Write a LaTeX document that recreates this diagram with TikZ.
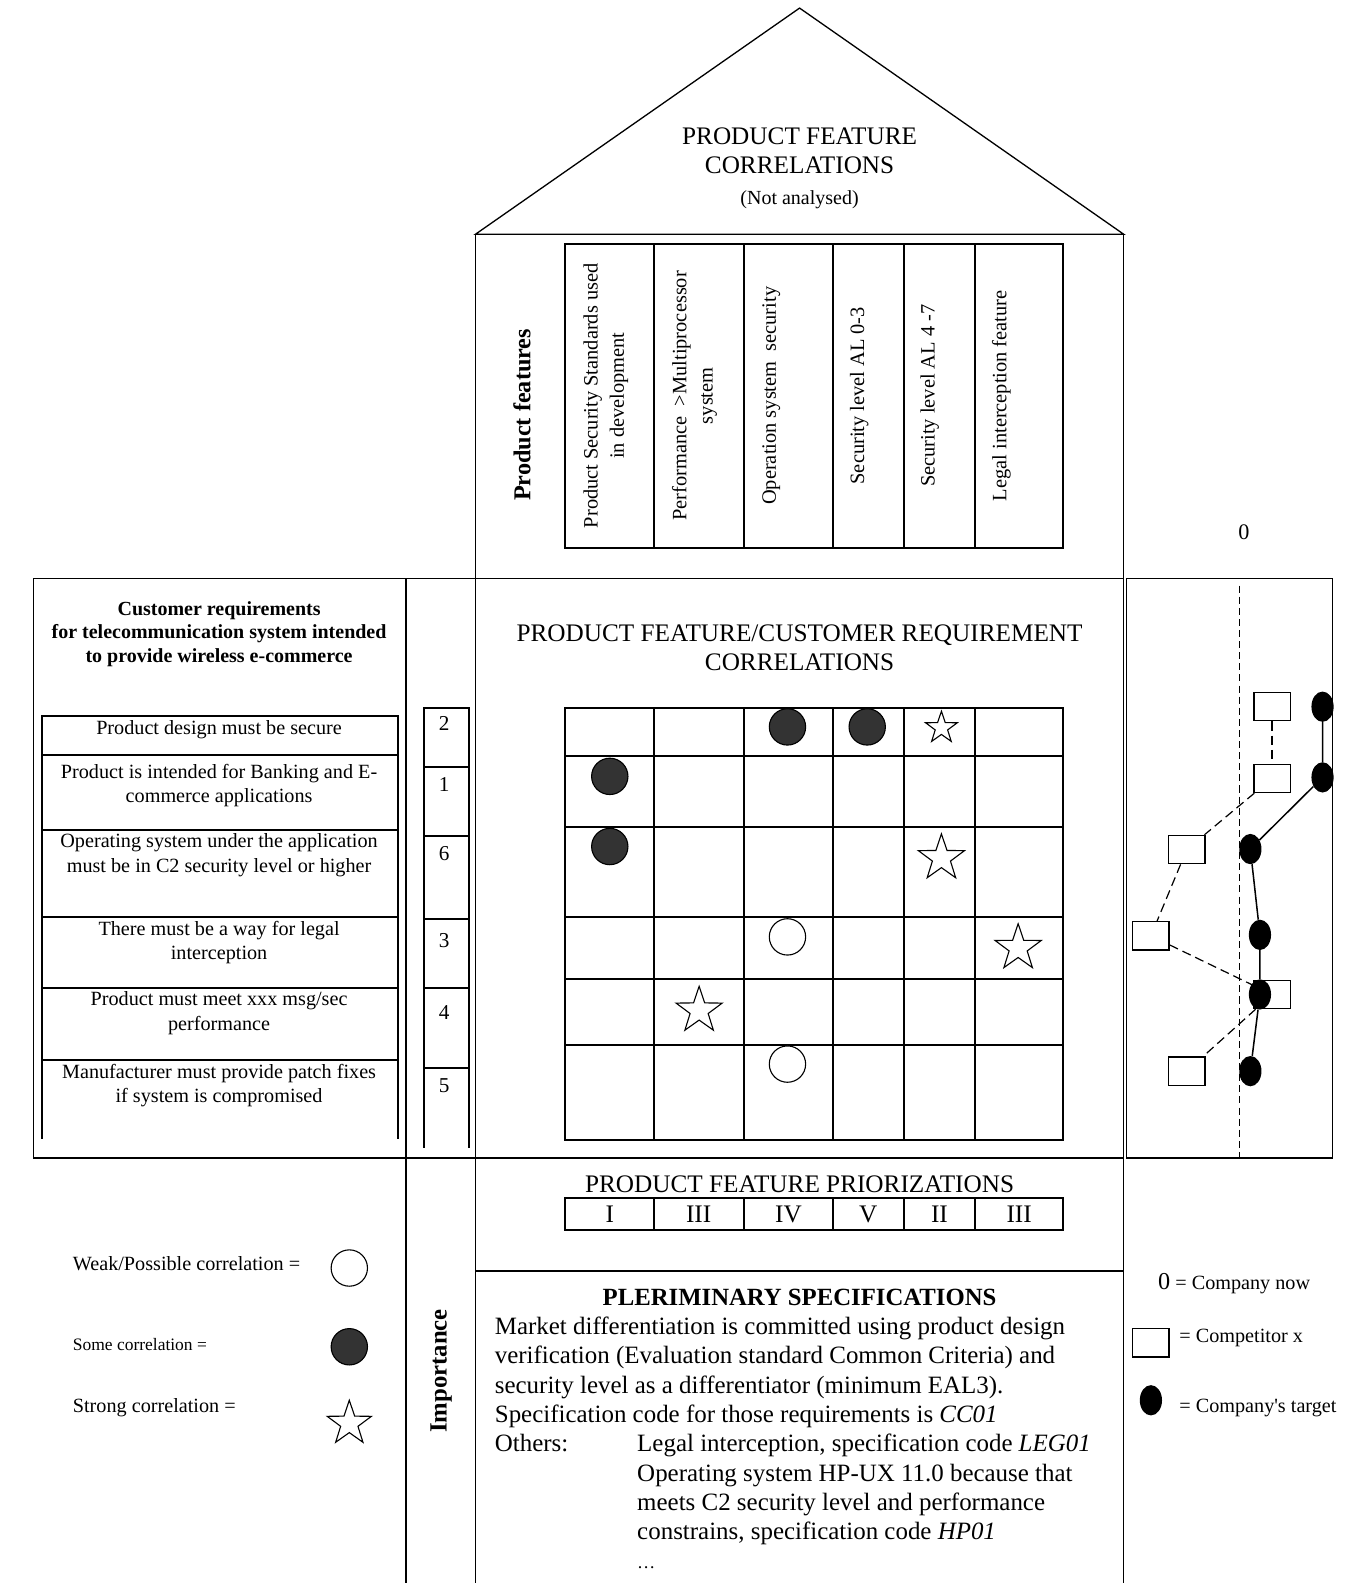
\documentclass[tikz,border=0pt]{standalone}
\usepackage{fontspec}
\setmainfont{Liberation Serif}
\newfontfamily\plainserif{Liberation Serif}[Ligatures=TeXOff]
\usetikzlibrary{shapes.geometric}

\begin{document}
\begin{tikzpicture}[x=1pt,y=-1pt,
  wall/.style={line width=1.3pt},
  tab/.style={line width=1.9pt},
  lbl/.style={inner sep=0pt, align=center},
  reqtxt/.style={lbl, font=\fontsize{20}{24}\selectfont},
  coltxt/.style={lbl, rotate=90, font=\fontsize{20.2}{26}\selectfont},
  bigtxt/.style={lbl, font=\fontsize{25}{28.5}\selectfont},
  spectxt/.style={inner sep=0pt, anchor=base west, font=\fontsize{24.7}{29}\selectfont},
  numtxt/.style={lbl, font=\fontsize{21}{24}\selectfont},
  legtxt/.style={lbl, anchor=west, font=\fontsize{20}{24}\selectfont},
  weak/.style={circle, draw, line width=1.1pt, fill=white, minimum size=36pt, inner sep=0pt},
  some/.style={circle, draw, line width=1.1pt, fill=black!80, minimum size=36pt, inner sep=0pt},
  strong/.style={star, star points=5, star point ratio=2.55, draw, line width=1.1pt, fill=white, inner sep=0pt, minimum size=#1},
  strong/.default=48pt,
  compbox/.style={rectangle, draw, line width=1.3pt, fill=white, minimum width=36pt, minimum height=28pt, inner sep=0pt},
  target/.style={ellipse, fill=black, minimum width=22pt, minimum height=30pt, inner sep=0pt},
  compline/.style={line width=1.2pt, dash pattern=on 9pt off 5pt},
  targetline/.style={line width=1.5pt}
]
\useasboundingbox (0,0) rectangle (1340,1568);

% ---------- house outline ----------
\draw[wall] (471,232) -- (792,8) -- (1113,232) -- cycle;
\draw[wall] (471,232) -- (471,1568);
\draw[wall] (1113,232) -- (1113,1568);
\draw[wall] (33,573) -- (1113,573);
\draw[wall] (33,1147) -- (1113,1147);
\draw[wall] (33,573) -- (33,1147);
\draw[wall] (402,573) -- (402,1568);
\draw[wall] (471,1259) -- (1113,1259);

% ---------- roof ----------
\node[bigtxt] (roofttl) at (792,149) {PRODUCT FEATURE\\CORRELATIONS};
\node[lbl, font=\fontsize{19.8}{22}\selectfont] (roofsub) at (792,198) {(Not analysed)};

% ---------- product features header ----------
\draw[tab] (560,242) rectangle (1053,543);
\foreach \x in {648,736.5,825,895,966} \draw[tab] (\x,242) -- (\x,543);
\node[lbl, rotate=90, font=\fontsize{24}{26}\bfseries] (pfhead) at (517,411) {Product features};
\node[coltxt] (pf1) at (600,392) {Product Security Standards used\\in development};
\node[coltxt] (pf2) at (688,392) {Performance\ \ >Multiprocessor\\system};
\node[coltxt] (pf3) at (764,392) {Operation system\ \ security};
\node[coltxt] (pf4) at (851,392) {Security level AL 0-3};
\node[coltxt] (pf5) at (921,392) {Security level AL 4 -7};
\node[coltxt] (pf6) at (992,392) {Legal interception feature};

% ---------- customer requirements ----------
\node[lbl, font=\fontsize{19.8}{23.5}\bfseries] (crhead) at (217,628)
  {Customer requirements\\for telecommunication system intended\\to provide wireless e-commerce};
\draw[tab] (42,1128) -- (42,709) -- (394,709) -- (394,1128);
\foreach \y in {748,822,908,979,1050} \draw[tab] (42,\y) -- (394,\y);
\node[reqtxt] (cr1) at (217,723) {Product design must be secure};
\node[reqtxt] (cr2) at (217,778) {Product is intended for Banking and E-\\commerce applications};
\node[reqtxt] (cr3) at (217,847) {Operating system under the application\\must be in C2 security level or higher};
\node[reqtxt] (cr4) at (217,933.5) {There must be a way for legal\\interception};
\node[reqtxt] (cr5) at (217,1003.5) {Product must meet xxx msg/sec\\performance};
\node[reqtxt] (cr6) at (217,1075) {Manufacturer must provide patch fixes\\if system is compromised};

% ---------- importance ----------
\draw[tab] (420,1137) -- (420,701) -- (465,701) -- (465,1137);
\foreach \y in {760,828,910,979,1058} \draw[tab] (420,\y) -- (465,\y);
\node[numtxt] (im1) at (440,717) {2};
\node[numtxt] (im2) at (440,777) {1};
\node[numtxt] (im3) at (440,845) {6};
\node[numtxt] (im4) at (440,932) {3};
\node[numtxt] (im5) at (440,1003) {4};
\node[numtxt] (im6) at (440,1075) {5};
\node[lbl, rotate=90, font=\fontsize{24.5}{26}\bfseries] (imhead) at (437,1358) {Importance};

% ---------- correlation matrix ----------
\node[bigtxt] (mxttl) at (792,642) {PRODUCT FEATURE/CUSTOMER REQUIREMENT\\CORRELATIONS};
\draw[tab] (560,701) rectangle (1053,1129);
\foreach \x in {648,736.5,825,895,966} \draw[tab] (\x,701) -- (\x,1129);
\foreach \y in {749,819,908,970,1035} \draw[tab] (560,\y) -- (1053,\y);
\node[some] (m13) at (780,720) {};
\node[some] (m14) at (859,720) {};
\node[strong=33pt] (m15) at (932.5,721) {};
\node[some] (m21) at (604,769) {};
\node[some] (m31) at (604,838.5) {};
\node[strong] (m35) at (932.5,850) {};
\node[weak] (m43) at (780,928) {};
\node[strong] (m46) at (1008.5,939) {};
\node[strong] (m52) at (692.5,1001) {};
\node[weak] (m63) at (780,1054) {};

% ---------- priorizations ----------
\node[lbl, font=\fontsize{25}{28}\selectfont] (prttl) at (792,1173) {PRODUCT FEATURE PRIORIZATIONS};
\draw[tab] (560,1187) rectangle (1053,1218);
\foreach \x in {648,736.5,825,895,966} \draw[tab] (\x,1187) -- (\x,1218);
\foreach \x/\t [count=\i] in {604/I,692/III,781/IV,860/V,930.5/II,1009.5/III}
  \node[lbl, font=\fontsize{25}{28}\selectfont] (pr\i) at (\x,1203) {\t};

% ---------- preliminary specifications ----------
\node[lbl, font=\fontsize{24.5}{28}\bfseries] (spttl) at (792,1285) {PLERIMINARY SPECIFICATIONS};
\node[spectxt] (sp1) at (490,1322) {Market differentiation is committed using product design};
\node[spectxt] (sp2) at (490,1351) {verification (Evaluation standard Common Criteria) and};
\node[spectxt] (sp3) at (490,1380) {security level as a differentiator (minimum EAL3).};
\node[spectxt] (sp4) at (490,1409) {Specification code for those requirements is \textit{CC01}};
\node[spectxt] (sp5) at (490,1438) {Others:};
\node[spectxt] (sp6) at (631,1438) {Legal interception, specification code \textit{LEG01}};
\node[spectxt] (sp7) at (631,1467) {Operating system HP-UX 11.0 because that};
\node[spectxt] (sp8) at (631,1496) {meets C2 security level and performance};
\node[spectxt] (sp9) at (631,1525) {constrains, specification code \textit{HP01}};
\node[spectxt, font=\fontsize{18}{20}\selectfont] (sp10) at (631,1554) {\dots};

% ---------- correlation legend ----------
\node[legtxt] (lgw) at (72,1252) {Weak/Possible correlation =};
\node[legtxt, font=\fontsize{17.3}{20}\selectfont] (lgs) at (72,1332) {Some correlation =};
\node[legtxt] (lgt) at (72,1394) {Strong correlation =};
\node[weak] (lgwsym) at (346,1256) {};
\node[some] (lgssym) at (346,1334) {};
\node[strong=46pt] (lgtsym) at (346,1410) {};

% ---------- competitive benchmark ----------
\node[lbl, font=\fontsize{22}{24}\selectfont] (zero) at (1232,527) {0};
\draw[wall] (1116,573) rectangle (1320,1147);
\coordinate (zt) at (1228,580);
\coordinate (zb) at (1228,1147);
\draw[line width=1.2pt, dash pattern=on 7pt off 4pt] (zt) -- (zb);

\node[compbox] (s1) at (1260,700) {};
\node[compbox] (s2) at (1260,771) {};
\node[compbox] (s3) at (1175.5,841.5) {};
\node[compbox] (s4) at (1140,927) {};
\node[compbox] (s5) at (1260,985) {};
\node[compbox] (s6) at (1175.5,1061) {};
\draw[compline] (s1) -- (s2);
\draw[compline] (s2) -- (s3);
\draw[compline] (s3) -- (s4);
\draw[compline] (s4) -- (s5);
\draw[compline] (s5) -- (s6);

\node[target] (d1) at (1310,700) {};
\node[target] (d2) at (1310,770) {};
\node[target] (d3) at (1238.5,841) {};
\node[target] (d4) at (1248,926) {};
\node[target] (d5) at (1248,985) {};
\node[target] (d6) at (1238.5,1061) {};
\draw[targetline] (d1) -- (d2) -- (d3) -- (d4) -- (d5) -- (d6);

% ---------- benchmark legend ----------
\node[legtxt] (lgnow) at (1147,1271)
  {{\fontsize{24}{26}\selectfont 0} = Company now};
\node[compbox] (lgcomp) at (1140,1330) {};
\node[legtxt] (lgcomptxt) at (1168,1325) {= Competitor x};
\node[target] (lgtarget) at (1140,1387) {};
\node[legtxt, font=\fontsize{20}{24}\plainserif] (lgtargettxt) at (1168,1395) {= Company's target};
\end{tikzpicture}
\end{document}
